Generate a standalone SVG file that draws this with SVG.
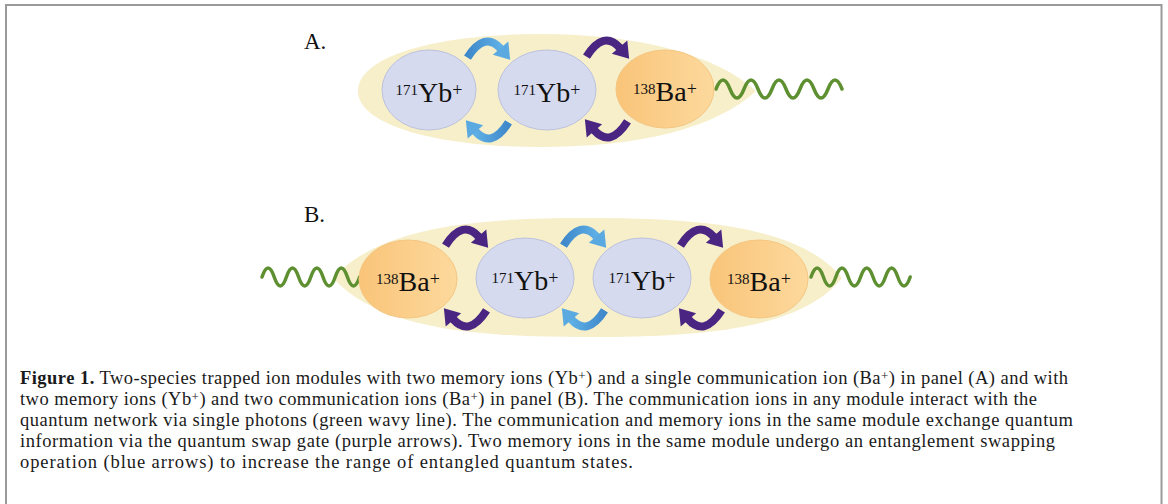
<svg xmlns="http://www.w3.org/2000/svg" xmlns:xlink="http://www.w3.org/1999/xlink" width="1168" height="504" viewBox="0 0 1168 504">
  <style>
    .lens { fill: #f6efca; }
    .yb { fill: #d6daef; stroke: #bcc2dd; stroke-width: 1; }
    .ba { fill: url(#baGrad); stroke: #f5c682; stroke-width: 1; }
    .lbl { font-family: "Liberation Serif", "Times New Roman", serif; font-size: 28px; fill: #111; text-anchor: middle; }
    .iso { font-size: 15px; }
    .pl { font-size: 18px; }
    .panel { font-family: "Liberation Serif", "Times New Roman", serif; font-size: 23px; fill: #111; }
    .cap { font-family: "Liberation Serif", "Times New Roman", serif; font-size: 18.5px; fill: #1a1a1a; }
    .sp { font-size: 13px; }
    .wave { fill: none; stroke: #5e9032; stroke-width: 3.5; stroke-linecap: round; }
    .purple { stroke: #4a2682; fill: #4a2682; }
    .blue { stroke: url(#blueGrad); fill: #5aa9e0; }
    .frame { fill: none; stroke: #9a9a9a; stroke-width: 2; }
  </style>
  <defs>
    <linearGradient id="baGrad" x1="0" y1="0" x2="1" y2="0">
      <stop offset="0" stop-color="#f9c479"/>
      <stop offset="1" stop-color="#fdd99d"/>
    </linearGradient>
    <linearGradient id="blueGrad" x1="0" y1="0" x2="1" y2="0">
      <stop offset="0" stop-color="#3f88ca"/>
      <stop offset="1" stop-color="#5fb0e6"/>
    </linearGradient>
    <g id="arr">
      <path d="M -19,-30 Q -3,-55 12,-38" stroke-width="7.5" fill="none"/>
      <polygon points="20.5,-28 4.5,-32.6 18.8,-45" stroke="none"/>
    </g>
  </defs>

  <rect width="1168" height="504" fill="#ffffff"/>
  <path class="frame" d="M 6,504 V 5 H 1161.5 V 504"/>

  <text class="panel" x="304" y="49">A.</text>
  <text class="panel" x="304" y="222">B.</text>

  <path id="moduleA" class="lens" d="M 358,91 C 358,55 440,34 540,34 C 640,34 716,55 756,91 C 716,128 640,147 540,147 C 440,147 358,126 358,91 Z"/>
  <path id="moduleB" class="lens" d="M 333,278 C 380,226 480,218 587,218 C 700,218 800,226 842,278 C 800,330 700,337 587,337 C 480,337 380,330 333,278 Z"/>

  <g id="connectors">
    <path class="wave" d="M 716,89 q 7,-18 14,0 t 14,0 t 14,0 t 14,0 t 14,0 t 14,0 t 14,0 t 14,0 t 14,0"/>
    <path class="wave" d="M 262,277 q 6.1,-18 12.2,0 t 12.2,0 t 12.2,0 t 12.2,0 t 12.2,0 t 12.2,0 t 12.2,0 t 12.2,0"/>
    <path class="wave" d="M 811,277 q 6.2,-18 12.4,0 t 12.4,0 t 12.4,0 t 12.4,0 t 12.4,0 t 12.4,0 t 12.4,0 t 12.4,0"/>

    <use href="#arr" class="blue" transform="translate(488,90) scale(1.08)"/>
    <use href="#arr" class="blue" transform="translate(488,90) rotate(180) scale(1.08)"/>
    <use href="#arr" class="purple" transform="translate(607,89) scale(1.08)"/>
    <use href="#arr" class="purple" transform="translate(607,89) rotate(180) scale(1.08)"/>

    <use href="#arr" class="purple" transform="translate(466,278) scale(1.08)"/>
    <use href="#arr" class="purple" transform="translate(466,278) rotate(180) scale(1.08)"/>
    <use href="#arr" class="blue" transform="translate(584,278) scale(1.08)"/>
    <use href="#arr" class="blue" transform="translate(584,278) rotate(180) scale(1.08)"/>
    <use href="#arr" class="purple" transform="translate(701,278) scale(1.08)"/>
    <use href="#arr" class="purple" transform="translate(701,278) rotate(180) scale(1.08)"/>
  </g>

  <g id="A-yb1">
    <ellipse class="yb" cx="429" cy="90" rx="47" ry="40"/>
    <text class="lbl" x="429" y="102"><tspan class="iso" dy="-7">171</tspan><tspan dy="7">Yb</tspan><tspan class="pl" dy="-6">+</tspan></text>
  </g>
  <g id="A-yb2">
    <ellipse class="yb" cx="547" cy="90" rx="49" ry="40"/>
    <text class="lbl" x="547" y="102"><tspan class="iso" dy="-7">171</tspan><tspan dy="7">Yb</tspan><tspan class="pl" dy="-6">+</tspan></text>
  </g>
  <g id="A-ba">
    <ellipse class="ba" cx="665" cy="89" rx="49" ry="39"/>
    <text class="lbl" x="665" y="101"><tspan class="iso" dy="-7">138</tspan><tspan dy="7">Ba</tspan><tspan class="pl" dy="-6">+</tspan></text>
  </g>

  <g id="B-ba1">
    <ellipse class="ba" cx="408" cy="279" rx="49" ry="39"/>
    <text class="lbl" x="408" y="291"><tspan class="iso" dy="-7">138</tspan><tspan dy="7">Ba</tspan><tspan class="pl" dy="-6">+</tspan></text>
  </g>
  <g id="B-yb1">
    <ellipse class="yb" cx="525" cy="278" rx="49" ry="40"/>
    <text class="lbl" x="525" y="290"><tspan class="iso" dy="-7">171</tspan><tspan dy="7">Yb</tspan><tspan class="pl" dy="-6">+</tspan></text>
  </g>
  <g id="B-yb2">
    <ellipse class="yb" cx="642" cy="278" rx="49" ry="40"/>
    <text class="lbl" x="642" y="290"><tspan class="iso" dy="-7">171</tspan><tspan dy="7">Yb</tspan><tspan class="pl" dy="-6">+</tspan></text>
  </g>
  <g id="B-ba2">
    <ellipse class="ba" cx="759" cy="279" rx="49" ry="39"/>
    <text class="lbl" x="759" y="291"><tspan class="iso" dy="-7">138</tspan><tspan dy="7">Ba</tspan><tspan class="pl" dy="-6">+</tspan></text>
  </g>

  <g id="caption">
    <text class="cap" x="20" y="384" textLength="1048"><tspan font-weight="bold">Figure 1.</tspan> Two-species trapped ion modules with two memory ions (Yb<tspan class="sp" dy="-4">+</tspan><tspan dy="4">) and a single communication ion (Ba</tspan><tspan class="sp" dy="-4">+</tspan><tspan dy="4">) in panel (A) and with</tspan></text>
    <text class="cap" x="20" y="405" textLength="1017">two memory ions (Yb<tspan class="sp" dy="-4">+</tspan><tspan dy="4">) and two communication ions (Ba</tspan><tspan class="sp" dy="-4">+</tspan><tspan dy="4">) in panel (B). The communication ions in any module interact with the</tspan></text>
    <text class="cap" x="20" y="426" textLength="1053">quantum network via single photons (green wavy line). The communication and memory ions in the same module exchange quantum</text>
    <text class="cap" x="20" y="447" textLength="1035">information via the quantum swap gate (purple arrows). Two memory ions in the same module undergo an entanglement swapping</text>
    <text class="cap" x="20" y="468" textLength="613">operation (blue arrows) to increase the range of entangled quantum states.</text>
  </g>
</svg>
